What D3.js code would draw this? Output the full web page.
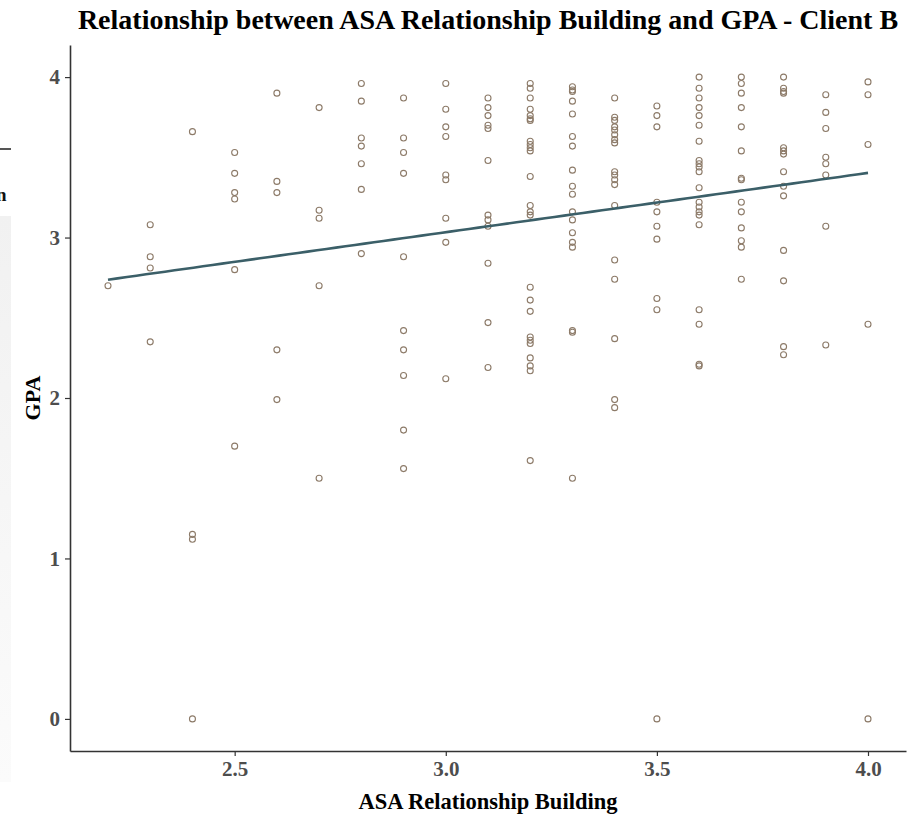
<!DOCTYPE html>
<html>
<head>
<meta charset="utf-8">
<script src="https://cdn.jsdelivr.net/npm/d3@7"></script>
<style>
  body { margin: 0; background: #fff; }
  svg { display: block; }
  .tick text { font-family: "Liberation Serif", "DejaVu Serif", serif; font-weight: bold; fill: #4d4d4d; }
</style>
</head>
<body>
<div id="chart"></div>
<script>
// ASA score levels (x) and the GPA values read at each level (y)
const asaLevels = [2.2, 2.3, 2.4, 2.5, 2.6, 2.7, 2.8, 2.9, 3.0, 3.1, 3.2, 3.3, 3.4, 3.5, 3.6, 3.7, 3.8, 3.9, 4.0];
const gpaByLevel = [
    [2.70],
    [3.08, 2.88, 2.81, 2.35],
    [3.66, 1.15, 1.12, 0],
    [3.53, 3.40, 3.28, 3.24, 2.80, 1.70],
    [3.90, 3.35, 3.28, 2.30, 1.99],
    [3.81, 3.17, 3.12, 2.70, 1.50],
    [3.96, 3.85, 3.62, 3.57, 3.46, 3.30, 2.90],
    [3.87, 3.62, 3.53, 3.40, 2.88, 2.42, 2.30, 2.14, 1.80, 1.56],
    [3.96, 3.80, 3.69, 3.63, 3.39, 3.36, 3.12, 2.97, 2.12],
    [3.87, 3.81, 3.76, 3.70, 3.68, 3.48, 3.14, 3.11, 3.07, 2.84, 2.47, 2.19],
    [3.96, 3.93, 3.87, 3.80, 3.76, 3.74, 3.73, 3.60, 3.58, 3.56, 3.54, 3.38, 3.20, 3.16, 3.14,
     2.69, 2.61, 2.54, 2.38, 2.36, 2.34, 2.25, 2.20, 2.17, 1.61],
    [3.94, 3.92, 3.91, 3.85, 3.77, 3.63, 3.57, 3.42, 3.32, 3.27, 3.16, 3.11, 3.03, 2.97, 2.94, 2.42, 2.41, 1.50],
    [3.87, 3.75, 3.73, 3.69, 3.67, 3.64, 3.61, 3.59, 3.41, 3.39, 3.36, 3.33, 3.20, 2.86, 2.74, 2.37, 1.99, 1.94],
    [3.82, 3.76, 3.69, 3.22, 3.16, 3.07, 2.99, 2.62, 2.55, 0],
    [4.00, 3.93, 3.87, 3.81, 3.76, 3.70, 3.60, 3.48, 3.46, 3.44, 3.41, 3.31, 3.22, 3.19, 3.16, 3.14, 3.08,
     2.55, 2.46, 2.21, 2.20],
    [4.00, 3.96, 3.90, 3.81, 3.69, 3.54, 3.37, 3.36, 3.22, 3.16, 3.06, 2.98, 2.94, 2.74],
    [4.00, 3.93, 3.91, 3.90, 3.56, 3.54, 3.52, 3.41, 3.32, 3.26, 2.92, 2.73, 2.32, 2.27],
    [3.89, 3.78, 3.68, 3.50, 3.46, 3.39, 3.07, 2.33],
    [3.97, 3.89, 3.58, 2.46, 0]
];
const xTicks = [2.5, 3.0, 3.5, 4.0];
const yTicks = [0, 1, 2, 3, 4];

const chartTitle = 'Relationship between ASA Relationship Building and GPA - Client B';
const xTitle = 'ASA Relationship Building';
const yTitle = 'GPA';

const width = 915, height = 814;
const margin = { top: 45, right: 9, bottom: 63, left: 70 };
const serif = '"Liberation Serif", "DejaVu Serif", serif';

const points = [];
asaLevels.forEach((lv, i) => gpaByLevel[i].forEach(g => points.push({ x: lv, y: g })));

const svg = d3.select('#chart').append('svg')
    .attr('width', width)
    .attr('height', height);

svg.append('rect').attr('width', width).attr('height', height).attr('fill', '#fff');

// leftover bits of the neighbouring page on the left edge
const edge = svg.append('g').attr('class', 'edge');
const edgeGrad = svg.append('defs').append('linearGradient')
    .attr('id', 'edgeFade').attr('x1', 0).attr('y1', 0).attr('x2', 0).attr('y2', 1);
edgeGrad.append('stop').attr('offset', '0%').attr('stop-color', '#f1f1f1');
edgeGrad.append('stop').attr('offset', '100%').attr('stop-color', '#fbfbfb');
edge.append('rect').attr('x', 0).attr('y', 216).attr('width', 11).attr('height', 566).attr('fill', 'url(#edgeFade)');
edge.append('rect').attr('x', 0).attr('y', 148).attr('width', 11).attr('height', 2).attr('fill', '#555');
edge.append('text').attr('x', -4).attr('y', 201)
    .attr('font-family', serif).attr('font-weight', 'bold').attr('font-size', 19)
    .attr('fill', '#111').text('n');

const x = d3.scaleLinear()
    .domain([2.11, 4.09])
    .range([margin.left, width - margin.right]);
const y = d3.scaleLinear()
    .domain([-0.2, 4.2])
    .range([height - margin.bottom, margin.top]);

// axes
const xAxis = svg.append('g')
    .attr('transform', `translate(0,${height - margin.bottom})`)
    .call(d3.axisBottom(x).tickValues(xTicks).tickFormat(d3.format('.1f')).tickSizeOuter(0).tickSizeInner(5).tickPadding(5));
const yAxis = svg.append('g')
    .attr('transform', `translate(${margin.left},0)`)
    .call(d3.axisLeft(y).tickValues(yTicks).tickFormat(d3.format('d')).tickSizeOuter(0).tickSizeInner(5).tickPadding(5));

[xAxis, yAxis].forEach(ax => {
    ax.select('.domain').attr('stroke', '#333').attr('stroke-width', 1.6);
    ax.selectAll('.tick line').attr('stroke', '#333').attr('stroke-width', 1.2);
    ax.selectAll('.tick text').attr('font-size', 21);
});

// points
svg.append('g').selectAll('circle')
    .data(points)
    .enter()
    .append('circle')
    .attr('cx', d => x(d.x))
    .attr('cy', d => y(d.y))
    .attr('r', 3)
    .attr('fill', 'none')
    .attr('stroke', '#8c7a68')
    .attr('stroke-width', 1.1);

// linear fit (like geom_smooth(method = "lm"))
const mx = d3.mean(points, d => d.x), my = d3.mean(points, d => d.y);
const slope = d3.sum(points, d => (d.x - mx) * (d.y - my)) / d3.sum(points, d => (d.x - mx) ** 2);
const intercept = my - slope * mx;
const xr = d3.extent(points, d => d.x);
const fit = d3.range(xr[0], xr[1] + 1e-9, (xr[1] - xr[0]) / 80).map(v => ({ x: v, y: intercept + slope * v }));

svg.append('path')
    .datum(fit)
    .attr('fill', 'none')
    .attr('stroke', '#3b5f68')
    .attr('stroke-width', 2.6)
    .attr('d', d3.line().x(d => x(d.x)).y(d => y(d.y)));

// titles
svg.append('text')
    .attr('x', (margin.left + width - margin.right) / 2)
    .attr('y', 29)
    .attr('text-anchor', 'middle')
    .attr('font-family', serif)
    .attr('font-weight', 'bold')
    .attr('font-size', 28)
    .attr('fill', '#000')
    .text(chartTitle);

svg.append('text')
    .attr('x', (margin.left + width - margin.right) / 2)
    .attr('y', 809)
    .attr('text-anchor', 'middle')
    .attr('font-family', serif)
    .attr('font-weight', 'bold')
    .attr('font-size', 22.5)
    .attr('fill', '#000')
    .text(xTitle);

svg.append('text')
    .attr('transform', `translate(40,${(margin.top + height - margin.bottom) / 2}) rotate(-90)`)
    .attr('text-anchor', 'middle')
    .attr('font-family', serif)
    .attr('font-weight', 'bold')
    .attr('font-size', 22)
    .attr('fill', '#000')
    .text(yTitle);
</script>
</body>
</html>
